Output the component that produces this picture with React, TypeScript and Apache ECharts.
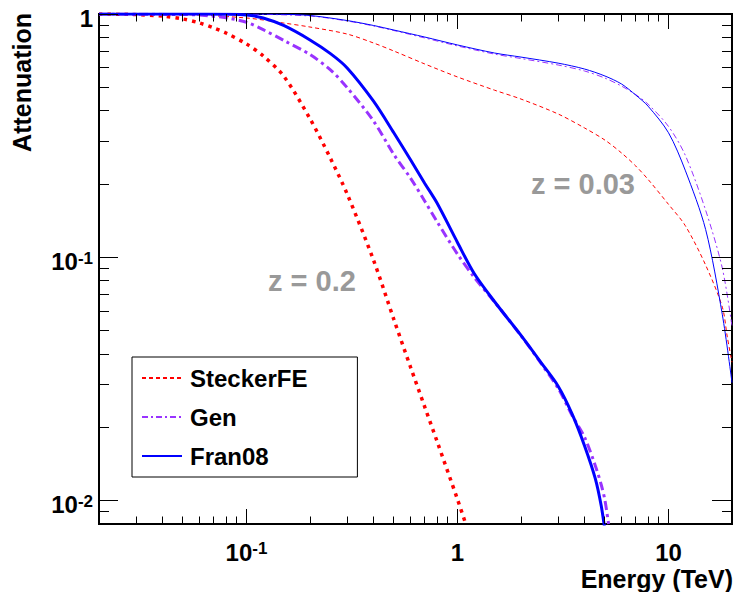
import React, { useEffect, useRef } from "react";
import * as echarts from "echarts";

const FONT = '"Liberation Sans", Arial, Helvetica, sans-serif';

// Axis ranges
const X_MIN = 0.02;
const X_MAX = 20;
const Y_MIN = 0.008;
const Y_MAX = 1;

// Tick positions (log axes)
const X_MAJOR = [0.1, 1, 10];
const X_MINOR = [0.03, 0.04, 0.05, 0.06, 0.07, 0.08, 0.09, 0.2, 0.3, 0.4, 0.5, 0.6, 0.7, 0.8, 0.9, 2, 3, 4, 5, 6, 7, 8, 9];
const Y_MAJOR = [0.01, 0.1, 1];
const Y_MINOR = [0.009, 0.02, 0.03, 0.04, 0.05, 0.06, 0.07, 0.08, 0.09, 0.2, 0.3, 0.4, 0.5, 0.6, 0.7, 0.8, 0.9];

// z = 0.03 (thin lines)
const energyStecker003 = [0.02, 0.05, 0.1, 0.15, 0.2, 0.3, 0.4, 0.5, 0.7, 1, 1.5, 2, 3, 4, 5, 6, 7, 8, 10, 12, 15, 18, 19, 20];
const attStecker003 = [1.0, 0.995, 0.963, 0.918, 0.884, 0.827, 0.76, 0.704, 0.623, 0.551, 0.486, 0.447, 0.388, 0.34, 0.303, 0.268, 0.237, 0.209, 0.165, 0.135, 0.0928, 0.0623, 0.047, 0.037];

const energyGen003 = [0.02, 0.1, 0.2, 0.3, 0.4, 0.5, 0.7, 1, 1.5, 2, 3, 4, 5, 6, 7, 8, 10, 12, 15, 18, 20];
const attGen003 = [1.0, 0.998, 0.981, 0.936, 0.893, 0.855, 0.797, 0.739, 0.684, 0.656, 0.617, 0.583, 0.545, 0.505, 0.466, 0.426, 0.345, 0.263, 0.156, 0.09, 0.052];

const energyFran003 = [0.02, 0.1, 0.15, 0.2, 0.3, 0.4, 0.5, 0.7, 1, 1.5, 2, 3, 4, 5, 6, 7, 8, 10, 12, 15, 18, 20];
const attFran003 = [1.0, 1.0, 0.997, 0.986, 0.94, 0.897, 0.859, 0.804, 0.746, 0.691, 0.665, 0.628, 0.594, 0.556, 0.515, 0.464, 0.418, 0.325, 0.228, 0.13, 0.058, 0.0305];

// z = 0.2 (thick lines)
const energyStecker02 = [0.02, 0.03, 0.04, 0.05, 0.06, 0.07, 0.08, 0.1, 0.12, 0.15, 0.2, 0.25, 0.3, 0.4, 0.5, 0.6, 0.7, 0.8, 1.0, 1.1];
const attStecker02 = [1.0, 0.995, 0.98, 0.954, 0.918, 0.876, 0.835, 0.753, 0.672, 0.556, 0.371, 0.255, 0.182, 0.0973, 0.0553, 0.0352, 0.0242, 0.0175, 0.0101, 0.0079];

const energyGen02 = [0.02, 0.05, 0.06, 0.08, 0.1, 0.12, 0.15, 0.2, 0.25, 0.3, 0.4, 0.5, 0.6, 0.7, 0.8, 1.0, 1.2, 1.5, 2, 2.5, 3, 3.5, 4, 4.5, 4.8, 5.0, 5.2];
const attGen02 = [1.0, 0.995, 0.99, 0.965, 0.925, 0.862, 0.779, 0.681, 0.589, 0.498, 0.363, 0.264, 0.211, 0.17, 0.14, 0.103, 0.0827, 0.0654, 0.0476, 0.0364, 0.0289, 0.0223, 0.0182, 0.0139, 0.0116, 0.01, 0.008];

const energyFran02 = [0.02, 0.05, 0.08, 0.1, 0.12, 0.15, 0.2, 0.25, 0.3, 0.4, 0.5, 0.6, 0.7, 0.8, 1.0, 1.2, 1.5, 2, 2.5, 3, 3.5, 4, 4.5, 4.8, 5.0];
const attFran02 = [1.0, 1.0, 0.997, 0.991, 0.963, 0.897, 0.782, 0.687, 0.6, 0.438, 0.324, 0.251, 0.201, 0.167, 0.115, 0.0857, 0.0656, 0.0477, 0.0367, 0.0295, 0.0226, 0.0168, 0.0123, 0.0095, 0.0075];

const LEGEND_NAMES = ["SteckerFE", "Gen", "Fran08"];
const RED = "#ff0000";
const PURPLE = "#9933ff";
const BLUE = "#0000ff";

const zip = (xs: number[], ys: number[]) => xs.map((x, i) => [x, ys[i]]);

const RICH = {
  b: { fontSize: 24, fontWeight: "bold", fontFamily: FONT, color: "#000", lineHeight: 24 },
  s: { fontSize: 17, fontWeight: "bold", fontFamily: FONT, color: "#000", lineHeight: 10, verticalAlign: "top" },
};

function fmtLog(v: number) {
  const l = Math.log10(v);
  const r = Math.round(l);
  if (Math.abs(l - r) > 1e-6) return "";
  if (r === 0) return "{b|1}";
  if (r === 1) return "{b|10}";
  return "{b|10}{s|" + r + "}";
}

function lineSeries(name: string, xs: number[], ys: number[], color: string, width: number, type: any) {
  return {
    type: "line",
    name,
    data: zip(xs, ys),
    symbol: "none",
    smooth: 0.3,
    clip: true,
    color,
    lineStyle: { color, width, type, cap: "butt" },
    emphasis: { disabled: true },
  };
}

export default function App() {
  const ref = useRef<HTMLDivElement>(null);

  useEffect(() => {
    if (!ref.current) return;
    const chart = echarts.init(ref.current, null, { renderer: "svg", width: 735, height: 592 });

    const option: any = {
      animation: false,
      grid: {
        left: 99,
        top: 14,
        width: 638,
        height: 510,
        show: true,
        borderColor: "#000",
        borderWidth: 2,
        backgroundColor: "transparent",
      },
      xAxis: {
        type: "log",
        logBase: 10,
        min: X_MIN,
        max: X_MAX,
        axisLine: { show: false },
        axisTick: { show: false },
        splitLine: { show: false },
        minorTick: { show: false },
        minorSplitLine: { show: false },
        axisLabel: {
          margin: 16,
          fontSize: 24,
          fontWeight: "bold",
          fontFamily: FONT,
          color: "#000",
          formatter: fmtLog,
          rich: RICH,
        },
      },
      yAxis: {
        type: "log",
        logBase: 10,
        min: Y_MIN,
        max: Y_MAX,
        axisLine: { show: false },
        axisTick: { show: false },
        splitLine: { show: false },
        minorTick: { show: false },
        minorSplitLine: { show: false },
        axisLabel: {
          margin: 6,
          fontSize: 24,
          fontWeight: "bold",
          fontFamily: FONT,
          color: "#000",
          padding: [9, 0, 0, 0],
          formatter: fmtLog,
          rich: RICH,
        },
      },
      legend: {
        data: LEGEND_NAMES,
        orient: "vertical",
        left: 132,
        top: 357,
        itemWidth: 40,
        itemHeight: 14,
        itemGap: 13,
        padding: [8, 50, 8, 9],
        backgroundColor: "#fff",
        borderColor: "#000",
        borderWidth: 1,
        borderRadius: 0,
        selectedMode: false,
        itemStyle: { opacity: 0, borderWidth: 0 },
        textStyle: {
          fontSize: 24,
          fontWeight: "bold",
          fontFamily: FONT,
          color: "#000",
          lineHeight: 26,
          padding: [0, 0, 0, 3],
        },
      },
      series: [
        lineSeries("SteckerFE", energyStecker003, attStecker003, RED, 1, [4, 3]),
        lineSeries("Gen", energyGen003, attGen003, PURPLE, 1, [6, 3, 2, 3]),
        lineSeries("Fran08", energyFran003, attFran003, BLUE, 1, "solid"),
        lineSeries("SteckerFE", energyStecker02, attStecker02, RED, 3.5, [3.5, 5]),
        lineSeries("Gen", energyGen02, attGen02, PURPLE, 3, [9, 4, 3, 4]),
        lineSeries("Fran08", energyFran02, attFran02, BLUE, 3, "solid"),
      ],
    };

    chart.setOption(option);

    const toPx = (x: number, y: number) => chart.convertToPixel({ gridIndex: 0 }, [x, y]) as number[];
    const [left, bottom] = toPx(X_MIN, Y_MIN);
    const [right, top] = toPx(X_MAX, Y_MAX);
    const crisp = (v: number) => Math.round(v - 0.5) + 0.5;
    const seg = (x1: number, y1: number, x2: number, y2: number) => ({
      type: "line",
      silent: true,
      z: 50,
      shape: { x1, y1, x2, y2 },
      style: { stroke: "#000", lineWidth: 1 },
    });

    const elements: any[] = [];
    X_MAJOR.forEach((v) => {
      const x = crisp(toPx(v, Y_MIN)[0]);
      elements.push(seg(x, bottom, x, bottom - 15), seg(x, top, x, top + 15));
    });
    X_MINOR.forEach((v) => {
      const x = crisp(toPx(v, Y_MIN)[0]);
      elements.push(seg(x, bottom, x, bottom - 7.5), seg(x, top, x, top + 7.5));
    });
    Y_MAJOR.forEach((v) => {
      const y = crisp(toPx(X_MIN, v)[1]);
      elements.push(seg(left, y, left + 19, y), seg(right, y, right - 20, y));
    });
    Y_MINOR.forEach((v) => {
      const y = crisp(toPx(X_MIN, v)[1]);
      elements.push(seg(left, y, left + 10, y), seg(right, y, right - 10, y));
    });

    const textStyle = (text: string, size: number, fill: string, align: string, lineHeight: number) => ({
      text,
      fontSize: size,
      fontWeight: "bold",
      fontFamily: FONT,
      fill,
      align,
      verticalAlign: "middle",
      lineHeight,
    });

    elements.push({
      type: "text",
      x: 733,
      y: 579,
      z: 60,
      style: textStyle("Energy (TeV)", 25, "#000", "right", 18),
    });
    elements.push({
      type: "text",
      x: 22,
      y: 13,
      rotation: Math.PI / 2,
      z: 60,
      style: textStyle("Attenuation", 25, "#000", "right", 25),
    });
    elements.push({
      type: "text",
      x: 312,
      y: 281,
      z: 60,
      style: textStyle("z = 0.2", 29, "#999999", "center", 29),
    });
    elements.push({
      type: "text",
      x: 583,
      y: 184,
      z: 60,
      style: textStyle("z = 0.03", 29, "#999999", "center", 29),
    });

    chart.setOption({ graphic: elements });

    return () => chart.dispose();
  }, []);

  return (
    <div
      ref={ref}
      style={{ position: "absolute", left: 0, top: 0, width: 735, height: 592 }}
    />
  );
}
